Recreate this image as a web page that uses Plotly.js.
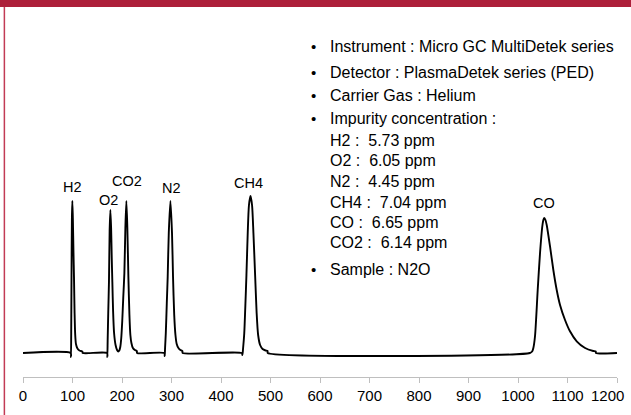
<!DOCTYPE html>
<html>
<head>
<meta charset="utf-8">
<script src="https://cdn.plot.ly/plotly-3.0.1.min.js"></script>
<style>
html,body{margin:0;padding:0;background:#fff;}
#chart{width:631px;height:415px;}
</style>
</head>
<body>
<div id="chart"></div>
<script>
// Retention time (x) and detector signal (y, arbitrary units)
var timeValues = [
  0, 96.3, 96.9, 97.4, 98.0, 98.8, 99.7, 100.7, 102, 103, 104.2, 105.5, 107, 110, 114, 120, 120.5,
  169.8, 170.4, 171, 172.2, 173.7, 175, 176.5, 178, 179.3, 180.5, 182, 184, 187, 190, 192.5,
  194.5, 196.5, 198.5, 200.5, 202.5, 204.8, 206.8, 208.8, 210.8, 212.9, 215, 216.9, 219, 222, 226, 230, 230.5,
  285.5, 286.3, 287, 288.5, 290.5, 292.3, 294.5, 297.8, 301, 303.1, 305.5, 308, 310.5, 314, 318, 322, 322.5,
  442, 443.3, 444.5, 447, 449, 451.4, 454, 456.5, 459.6, 462.7, 465.5, 468.9, 472, 475, 479, 484, 490, 494, 494.5,
  1024, 1028.5, 1031, 1034.4, 1039.8, 1044.5, 1049.2, 1051.5, 1053.2, 1055.5, 1058, 1064.7, 1071.4, 1078.2,
  1084.9, 1095, 1105, 1118.6, 1135.5, 1152, 1157, 1157.5, 1200
];
var signalValues = [
  0, 0, -4, 20, 76, 135, 152, 135, 100, 76, 40, 18, 9, 4.5, 2.5, 1.5, 0,
  0, -4, 12, 40, 72, 122, 143, 125, 95, 71, 42, 20, 8, 3, 1.5,
  2.5, 6, 15, 32, 55, 80, 125, 152, 125, 76, 38, 18, 10, 5, 3, 2, 0,
  0, -3, 5, 20, 50, 76, 120, 152, 120, 76, 38, 18, 9, 5, 3, 2, 0,
  0, -2, 4, 20, 45, 78, 120, 148, 157, 148, 120, 78, 40, 18, 8, 4, 2.5, 2, 0,
  0, 1.5, 5, 17, 63, 100, 127, 133.5, 135, 133, 128, 106.6, 83, 63,
  48, 33, 21.7, 11.7, 5, 2, 1.5, 0, 0
];

// Peak labels
var peakNames = ["H2", "O2", "CO2", "N2", "CH4", "CO"];
var peakLabelX = [99.7, 173.7, 210, 300.4, 456.1, 1052.6];
var peakLabelY = [166.3, 153, 172.3, 164.7, 170.3, 150.3];

// Info text lines
var infoLines = [
  "Instrument : Micro GC MultiDetek series",
  "Detector : PlasmaDetek series (PED)",
  "Carrier Gas : Helium",
  "Impurity concentration :",
  "H2 :  5.73 ppm",
  "O2 :  6.05 ppm",
  "N2 :  4.45 ppm",
  "CH4 :  7.04 ppm",
  "CO :  6.65 ppm",
  "CO2 :  6.14 ppm",
  "Sample : N2O"
];
var infoBullet = [true, true, true, true, false, false, false, false, false, false, true];
var infoLineY = [46.7, 72.7, 96, 118.3, 140, 160.7, 181.7, 202.3, 222.3, 242.3, 269.3]; // pixel rows

var xTicks = [0,100,200,300,400,500,600,700,800,900,1000,1100,1200];

// geometry
var W = 631, H = 415;
var mL = 23.4, mR = 14.1, mT = 40, mB = 38;
var plotW = W - mL - mR, plotH = H - mT - mB;
function px2paperX(px){ return (px - mL) / plotW; }
function px2paperY(py){ return (H - mB - py) / plotH; }

var FONT = "Liberation Sans, Arial, sans-serif";

// the last tick label sits left of its tick in the reference (kept inside the frame):
// it is drawn as an annotation anchored at that tick value
var lastTick = xTicks[xTicks.length - 1];
var tickText = xTicks.map(function(v){ return v === lastTick ? "" : String(v); });

var annotations = [];
for (var i = 0; i < peakNames.length; i++) {
  annotations.push({
    x: peakLabelX[i], y: peakLabelY[i], xref: "x", yref: "y",
    text: peakNames[i], showarrow: false, xanchor: "center", yanchor: "middle",
    font: {family: FONT, size: 14.5, color: "#000"}
  });
}
annotations.push({
  x: lastTick, xref: "x", y: px2paperY(395.5), yref: "paper",
  text: String(lastTick), showarrow: false, xanchor: "right", yanchor: "middle",
  xshift: 9, font: {family: FONT, size: 15, color: "#000"}
});
for (var j = 0; j < infoLines.length; j++) {
  annotations.push({
    x: px2paperX(328.3), y: px2paperY(infoLineY[j]), xref: "paper", yref: "paper",
    text: infoLines[j], showarrow: false, xanchor: "left", yanchor: "middle",
    font: {family: FONT, size: 16, color: "#000"}
  });
  if (infoBullet[j]) {
    annotations.push({
      x: px2paperX(313.6), y: px2paperY(infoLineY[j]), xref: "paper", yref: "paper",
      text: "\u2022", showarrow: false, xanchor: "center", yanchor: "middle",
      font: {family: FONT, size: 15, color: "#000"}
    });
  }
}

var shapes = [
  {type: "rect", xref: "paper", yref: "paper",
   x0: px2paperX(0), x1: px2paperX(W), y0: px2paperY(7), y1: px2paperY(0),
   fillcolor: "#AD1F3A", line: {width: 0}, layer: "above"},
  {type: "line", xref: "paper", yref: "paper",
   x0: px2paperX(4.8), x1: px2paperX(4.8), y0: px2paperY(7), y1: px2paperY(H),
   line: {color: "#C23B55", width: 1.5}, layer: "above"}
];

var trace = {
  x: timeValues, y: signalValues, type: "scatter", mode: "lines",
  line: {color: "#000", width: 1.9, shape: "spline", smoothing: 0.7},
  hoverinfo: "skip"
};

var layout = {
  width: W, height: H,
  margin: {l: mL, r: mR, t: mT, b: mB, pad: 0},
  paper_bgcolor: "#fff", plot_bgcolor: "#fff",
  showlegend: false,
  xaxis: {
    range: [0, 1200], tickvals: xTicks, ticktext: tickText,
    showline: true, linecolor: "#BFBFBF", linewidth: 1,
    ticks: "outside", ticklen: 5, tickcolor: "#BFBFBF", tickwidth: 1,
    showgrid: false, zeroline: false,
    tickfont: {family: FONT, size: 15, color: "#000"}
  },
  yaxis: {range: [-24, 313], visible: false, showgrid: false, zeroline: false},
  annotations: annotations,
  shapes: shapes
};

Plotly.newPlot("chart", [trace], layout, {displayModeBar: false, staticPlot: true});
</script>
</body>
</html>
